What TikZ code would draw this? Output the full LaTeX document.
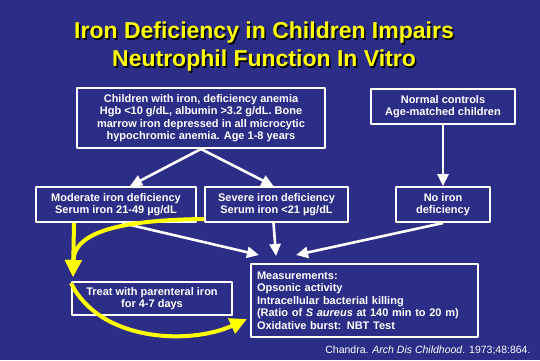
\documentclass[tikz,border=0pt]{standalone}
\usepackage{fontspec}
\setmainfont{Liberation Sans}
\usetikzlibrary{arrows.meta}
\definecolor{slideblue}{RGB}{44,45,135}
\definecolor{slideyellow}{RGB}{255,255,0}
\begin{document}
\begin{tikzpicture}[x=1pt,y=-1pt,line join=round,
	box/.style={draw=white,line width=2pt,text=white,inner sep=0pt,align=center,
		font=\fontsize{11}{12.5}\selectfont\bfseries},
	wa/.style={white,line width=2.6pt,-{Triangle[length=12pt,width=11pt]}},
	ya/.style={slideyellow,line width=4pt,-{Triangle[length=17pt,width=16pt]}}]
			\fill[slideblue] (0,0) rectangle (540,360);
			\useasboundingbox (0,0) rectangle (540,360);
			% title with its shadow
			\def \titletext{Iron Deficiency in Children Impairs\\Neutrophil Function In Vitro}
			\node[align=center,text=black,font=\fontsize{23}{28}\selectfont\bfseries] (titleshadow) at (265.5,48.5) {\titletext};
			\node[align=center,text=slideyellow,font=\fontsize{23}{28}\selectfont\bfseries] (title) at (264,47) {\titletext};
			% boxes
			\node[box,minimum width=248pt,minimum height=60pt] (children) at (201,118) {Children with iron, deficiency anemia\\Hgb <10 g/dL, albumin >3.2 g/dL. Bone\\marrow iron depressed in all microcytic\\hypochromic anemia. Age 1-8 years};
			\node[box,minimum width=144pt,minimum height=35pt] (normal) at (443,106.5) {Normal controls\\Age-matched children};
			\node[box,minimum width=160pt,minimum height=35pt] (moderate) at (116,204.5) {Moderate iron deficiency\\Serum iron 21-49 µg/dL};
			\node[box,minimum width=143pt,minimum height=35pt] (severe) at (276.5,204.5) {Severe iron deficiency\\Serum iron <21 µg/dL};
			\node[box,minimum width=94pt,minimum height=35pt] (noiron) at (443,204.5) {No iron\\deficiency};
			\node[box,minimum width=160pt,minimum height=33pt] (treat) at (152,298.5) {Treat with parenteral iron\\for 4-7 days};
			\node[box,align=left,text width=215pt,inner xsep=6pt,minimum height=73pt] (measure) at (364.5,300.5) {Measurements:\\Opsonic activity\\Intracellular bacterial killing\\(Ratio of \textit{S aureus} at 140 min to 20 m)\\Oxidative burst: NBT Test};
			\node[anchor=east,text=white,font=\fontsize{10.5}{12}\selectfont] (cite) at (534,350) {Chandra. \textit{Arch Dis Childhood}. 1973;48:864.};
			% white arrows
			\draw[wa] (children.south) -- ([xshift=14pt]moderate.north);
			\draw[wa] (children.south) -- ([xshift=-3pt]severe.north);
			\draw[wa] (normal.south) -- (noiron.north);
			\draw[wa] ([xshift=6pt]moderate.south) -- ([xshift=9pt,yshift=8pt]measure.north west);
			\draw[wa] ([xshift=-3pt]severe.south) -- ([xshift=26pt,yshift=7pt]measure.north west);
			\draw[wa] (noiron.south) -- ([xshift=46pt,yshift=8pt]measure.north west);
			% yellow arrows
			\draw[ya] ([xshift=-42pt]moderate.south) -- ([xshift=2pt,yshift=4pt]treat.north west);
			\draw[ya] ([yshift=-14.5pt]severe.west) .. controls (120,220) and (74,232) .. ([xshift=2pt,yshift=4pt]treat.north west);
			\draw[ya] ([yshift=-2pt]treat.north west) .. controls (100,342) and (190,345) .. ([xshift=-3pt,yshift=-18.5pt]measure.west);
	\end{tikzpicture}
\end{document}
